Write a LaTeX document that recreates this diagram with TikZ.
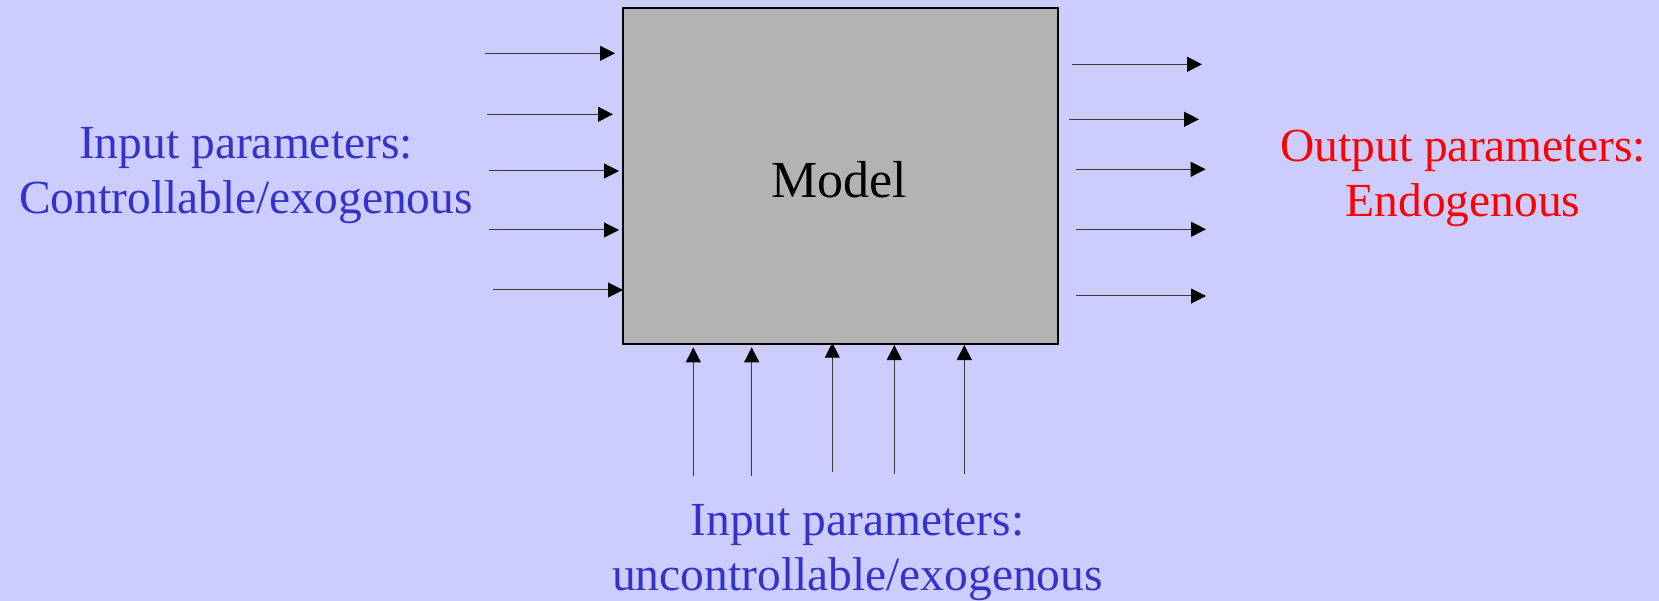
\documentclass[tikz,border=0pt]{standalone}
\usepackage{fontspec}
\setmainfont{Liberation Serif}
\usetikzlibrary{arrows.meta}
\definecolor{bgc}{HTML}{CCCCFF}
\definecolor{boxc}{HTML}{B3B3B3}
\definecolor{bluet}{HTML}{3333CC}
\definecolor{redt}{HTML}{FF0000}
\definecolor{linec}{HTML}{3A3A3A}
\begin{document}
\begin{tikzpicture}[x=1pt,y=-1pt,
  arr/.style={draw=linec, line width=1pt, -{Triangle[length=15pt,width=15pt,color=black]}},
  lbl/.style={align=center, inner sep=0pt, anchor=base, font=\fontsize{47.5}{55}\selectfont},
  modelbox/.style={draw=black, line width=2pt, fill=boxc, inner sep=0pt}]
\fill[bgc] (0,0) rectangle (1659,601);
\useasboundingbox (0,0) rectangle (1659,601);
% box
\node[modelbox, minimum width=435.6pt, minimum height=335.7pt] (model) at (840.5,176.15) {};
\node[inner sep=0pt, anchor=base, font=\fontsize{52}{60}\selectfont] (modeltxt) at (839,197.7) {Model};
% left arrows
\coordinate (l1s) at (485,53.3);  \coordinate (l1e) at (615,53.3);
\coordinate (l2s) at (487,114.3); \coordinate (l2e) at (613,114.3);
\coordinate (l3s) at (489,171);   \coordinate (l3e) at (619,171);
\coordinate (l4s) at (489,230);   \coordinate (l4e) at (619,230);
\coordinate (l5s) at (493,290);   \coordinate (l5e) at (623,290);
\foreach \i in {1,...,5} \draw[arr] (l\i s) -- (l\i e);
% right arrows
\coordinate (r1s) at (1072,64.3);   \coordinate (r1e) at (1202,64.3);
\coordinate (r2s) at (1069,119.3);  \coordinate (r2e) at (1199,119.3);
\coordinate (r3s) at (1075.7,169.3);\coordinate (r3e) at (1205.7,169.3);
\coordinate (r4s) at (1076,229.3);  \coordinate (r4e) at (1206,229.3);
\coordinate (r5s) at (1076,296);    \coordinate (r5e) at (1206,296);
\foreach \i in {1,...,5} \draw[arr] (r\i s) -- (r\i e);
% bottom arrows
\coordinate (b1s) at (693.3,476);   \coordinate (b1e) at (693.3,347.3);
\coordinate (b2s) at (751.7,476);   \coordinate (b2e) at (751.7,347.3);
\coordinate (b3s) at (832.3,472.3); \coordinate (b3e) at (832.3,342.7);
\coordinate (b4s) at (894.3,474.3); \coordinate (b4e) at (894.3,345);
\coordinate (b5s) at (964.3,474);   \coordinate (b5e) at (964.3,345);
\foreach \i in {1,...,5} \draw[arr] (b\i s) -- (b\i e);
% labels (base anchor = baseline of last line)
\node[lbl, text=bluet] (inctrl) at (246,214) {Input parameters:\\Controllable/exogenous};
\node[lbl, text=redt] (outp) at (1463,217) {Output parameters:\\Endogenous};
\node[lbl, text=bluet] (inunc) at (857.5,590) {Input parameters:\\uncontrollable/exogenous};
\end{tikzpicture}
\end{document}
